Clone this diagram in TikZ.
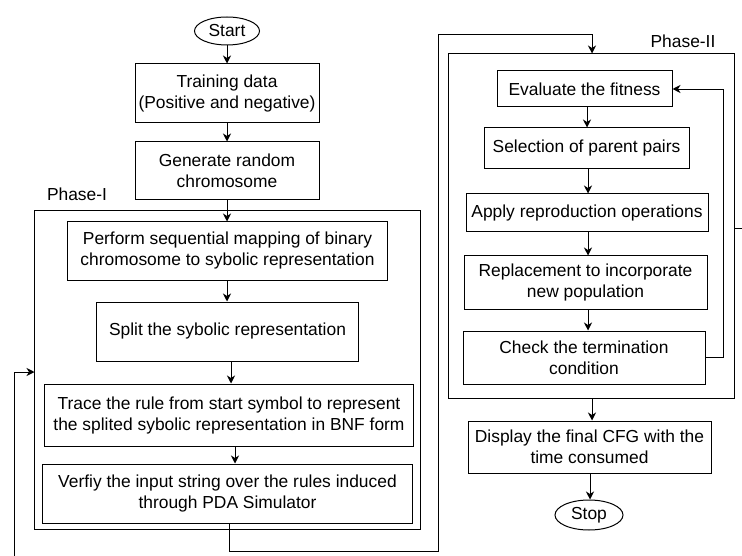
\documentclass[tikz,border=0pt]{standalone}
\usepackage{fontspec}
\setmainfont{Liberation Sans}
\usetikzlibrary{arrows.meta,shapes.geometric}
\tikzset{
  box/.style={draw, line width=1bp, align=center, inner sep=0pt},
  term/.style={draw, ellipse, line width=1bp, inner sep=0pt},
  phase/.style={draw, line width=1bp, inner sep=0pt},
  arr/.style={line width=0.9bp, -{Stealth[length=8bp,width=8bp,inset=2.5bp]}},
  conn/.style={line width=0.9bp},
  lbl/.style={inner sep=0pt}
}
\begin{document}
\begin{tikzpicture}[x=1bp,y=-1bp,font=\fontsize{17.4bp}{21bp}\selectfont]
\useasboundingbox (0,0) rectangle (742,556);
% phase boxes
\node[phase, minimum width=385bp, minimum height=318bp] (ph1) at (227.5,370) {};
\node[phase, minimum width=286bp, minimum height=344bp] (ph2) at (591,226) {};
\node[lbl] (l1) at (77,194) {Phase-I};
\node[lbl] (l2) at (683,41) {Phase-II};
% left column
\node[term, minimum width=65bp, minimum height=28bp] (start) at (227,31) {Start};
\node[box, minimum width=184bp, minimum height=59bp] (train) at (227,93.5) {Training data\\(Positive and negative)};
\node[box, minimum width=184bp, minimum height=58bp] (gen) at (227,171) {Generate random\\chromosome};
\node[box, minimum width=319bp, minimum height=58bp] (perf) at (227.5,251) {Perform sequential mapping of binary\\chromosome to sybolic representation};
\node[box, minimum width=261bp, minimum height=59bp] (split) at (227.5,331.5) {Split the sybolic representation};
\node[box, minimum width=368bp, minimum height=62bp] (trace) at (229,415) {Trace the rule from start symbol to represent\\the splited sybolic representation in BNF form};
\node[box, minimum width=369bp, minimum height=59bp] (verify) at (227.5,493.5) {Verfiy the input string over the rules induced\\through PDA Simulator};
% right column
\node[box, minimum width=175bp, minimum height=36bp] (eval) at (584.5,89) {Evaluate the fitness};
\node[box, minimum width=205bp, minimum height=41bp] (sel) at (586.5,148.5) {Selection of parent pairs};
\node[box, minimum width=242bp, minimum height=38bp] (apply) at (587,213) {Apply reproduction operations};
\node[box, minimum width=243bp, minimum height=53bp] (repl) at (585.5,282.5) {Replacement to incorporate\\new population};
\node[box, minimum width=242bp, minimum height=53bp] (check) at (584,357.5) {Check the termination\\condition};
\node[box, minimum width=243bp, minimum height=52bp] (disp) at (589.5,447) {Display the final CFG with the\\time consumed};
\node[term, minimum width=68bp, minimum height=30bp] (stop) at (589,515) {Stop};
% helper coordinates
\coordinate (xa) at (227,0);
\coordinate (xb) at (231,0);
\coordinate (xc) at (235,0);
\coordinate (xv) at (229,0);
\coordinate (xp) at (592,0);
\coordinate (xr) at (588,0);
\coordinate (xe) at (587,0);
\coordinate (xs) at (590,0);
\coordinate (lb) at (438,551);
\coordinate (lt) at (438,34);
\coordinate (lin) at (14,556);
\coordinate (yl) at (0,372);
\coordinate (fb) at (723,200);
\coordinate (rr) at (742,228);
% connectors left
\draw[arr] (start.south -| xa) -- (train.north -| xa);
\draw[arr] (train.south -| xa) -- (gen.north -| xa);
\draw[arr] (gen.south -| xa) -- (perf.north -| xa);
\draw[arr] (perf.south -| xa) -- (split.north -| xa);
\draw[arr] (split.south -| xb) -- (trace.north -| xb);
\draw[arr] (trace.south -| xc) -- (verify.north -| xc);
\draw[arr] (verify.south -| xv) |- (lb) -- (lt) -| (ph2.north -| xp);
\draw[arr] (lin) |- (ph1.west |- yl);
% connectors right
\draw[arr] (eval.south -| xe) -- (sel.north -| xe);
\draw[arr] (sel.south -| xr) -- (apply.north -| xr);
\draw[arr] (apply.south -| xr) -- (repl.north -| xr);
\draw[arr] (repl.south -| xr) -- (check.north -| xr);
\draw[arr] (check.east) -| (fb) |- (eval.east);
\draw[arr] (ph2.south -| xp) -- (disp.north -| xp);
\draw[arr] (disp.south -| xs) -- (stop.north -| xs);
\draw[conn] (ph2.east |- rr) -- (rr);
\end{tikzpicture}
\end{document}
